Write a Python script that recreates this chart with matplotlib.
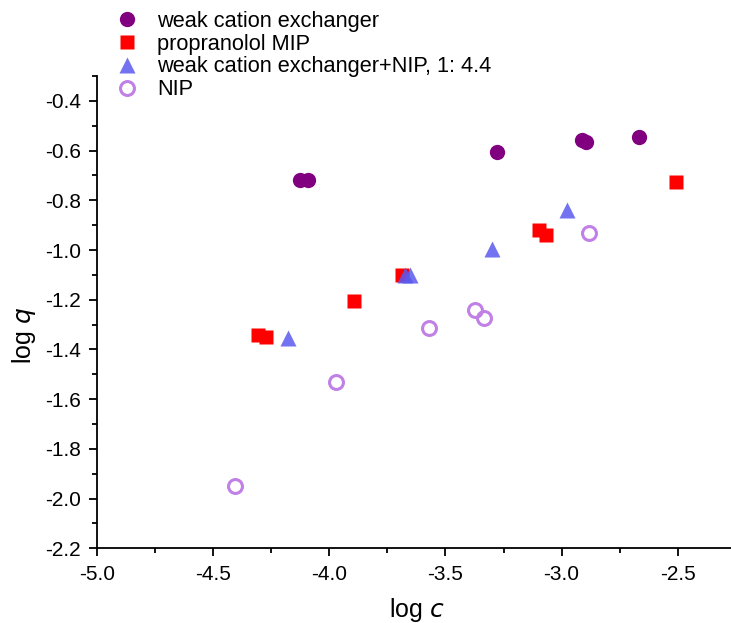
import numpy as np
import matplotlib
matplotlib.use('Agg')
import matplotlib.pyplot as plt
from matplotlib.ticker import MultipleLocator

plt.rcParams['font.family'] = ['Liberation Sans', 'DejaVu Sans']

# weak cation exchanger
wcx_c = [-4.125, -4.091, -3.278, -2.911, -2.895, -2.665]
wcx_q = [-0.717, -0.717, -0.607, -0.557, -0.567, -0.547]
# propranolol MIP
mip_c = [-4.309, -4.275, -3.894, -3.689, -3.095, -3.068, -2.506]
mip_q = [-1.343, -1.350, -1.206, -1.102, -0.919, -0.939, -0.728]
# weak cation exchanger + NIP, 1:4.4
mix_c = [-4.179, -3.673, -3.653, -3.298, -2.975]
mix_q = [-1.355, -1.100, -1.102, -0.995, -0.840]
# NIP
nip_c = [-4.407, -3.970, -3.573, -3.373, -3.333, -2.881]
nip_q = [-1.950, -1.531, -1.314, -1.240, -1.272, -0.931]

labels = ['weak cation exchanger', 'propranolol MIP',
          'weak cation exchanger+NIP, 1: 4.4', 'NIP']

fig = plt.figure(figsize=(7.31, 6.23), dpi=100)
ax = fig.add_axes([97.3/731, 1-548.3/623, 1-97.3/731, (548.3-76)/623])

ax.plot(wcx_c, wcx_q, 'o', color='#800080', ms=11, mec='none', label=labels[0])
ax.plot(mip_c, mip_q, 's', color='#ff0000', ms=10, mec='none', label=labels[1])
ax.plot(mix_c, mix_q, '^', color='#5a5af0', ms=11, mec='none', alpha=0.85, label=labels[2])
ax.plot(nip_c, nip_q, 'o', mfc='none', mec='#c080e6', mew=2.2, ms=10, label=labels[3])

ax.set_xlim(-5.0, -2.27)
ax.set_ylim(-2.2, -0.3)
ax.xaxis.set_major_locator(MultipleLocator(0.5))
ax.xaxis.set_minor_locator(MultipleLocator(0.25))
ax.yaxis.set_major_locator(MultipleLocator(0.2))
ax.yaxis.set_minor_locator(MultipleLocator(0.1))
ax.xaxis.set_major_formatter(plt.FormatStrFormatter('%.1f'))
ax.yaxis.set_major_formatter(plt.FormatStrFormatter('%.1f'))

for s in ['top', 'right']:
    ax.spines[s].set_visible(False)
for s in ['left', 'bottom']:
    ax.spines[s].set_linewidth(1.3)
ax.tick_params(which='major', direction='out', length=6, width=1.3, labelsize=15, pad=6)
ax.tick_params(which='minor', direction='out', length=3.5, width=1.3)

ax.set_xlabel('log $\\it{c}$', fontsize=18)
ax.set_ylabel('log $\\it{q}$', fontsize=18)
ax.xaxis.set_label_coords(0.505, -0.10)
ax.yaxis.set_label_coords(-0.093, 0.45)

ax.legend(loc='upper left', bbox_to_anchor=(116/731, 1-11/623),
          bbox_transform=fig.transFigure, frameon=False, fontsize=15.7,
          handlelength=1.0, handletextpad=0.9, labelspacing=0.08,
          borderpad=0, borderaxespad=0, numpoints=1)

fig.savefig('out.png', dpi=100)
